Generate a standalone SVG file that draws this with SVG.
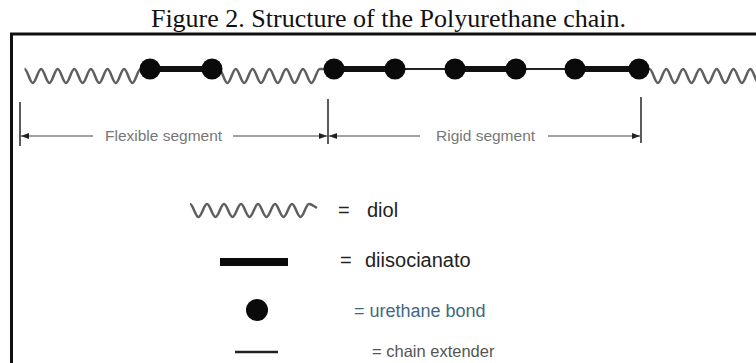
<svg xmlns="http://www.w3.org/2000/svg" width="756" height="363" viewBox="0 0 756 363">
<defs>
<style>
.wave{fill:none;stroke:#5f5f5f;stroke-width:2.5;stroke-linejoin:round}
.thick{stroke:#111;stroke-width:6}
.thin{stroke:#222;stroke-width:2}
.dot{fill:#0a0a0a}
.tick{stroke:#333;stroke-width:1.6}
.dim{stroke:#444;stroke-width:1.2;fill:none}
.dimtxt{font-family:"Liberation Sans",Arial,sans-serif;font-size:15.5px;fill:#777}
.leg{font-family:"Liberation Sans",Arial,sans-serif;font-size:20px;fill:#222}
</style>
<marker id="ah" viewBox="0 0 8 6" refX="8" refY="3" markerWidth="8" markerHeight="6" markerUnits="userSpaceOnUse" orient="auto-start-reverse">
<path d="M0 0L8 3L0 6Z" fill="#222"/>
</marker>
</defs>
<rect width="756" height="363" fill="#fff"/>
<g id="title">
<text x="388.5" y="27" text-anchor="middle" font-family="'Liberation Serif','Times New Roman',serif" font-size="26" fill="#111">Figure 2. Structure of the Polyurethane chain.</text>
</g>
<g id="frame">
<path d="M11.5 363V34H756" fill="none" stroke="#111" stroke-width="3"/>
</g>
<g id="connectors">
<line class="thick" x1="150" y1="69" x2="212" y2="69"/>
<line class="thick" x1="334" y1="69" x2="395" y2="69"/>
<line class="thin" x1="395" y1="69" x2="455" y2="69"/>
<line class="thick" x1="455" y1="69" x2="516" y2="69"/>
<line class="thin" x1="516" y1="69" x2="575" y2="69"/>
<line class="thick" x1="575" y1="69" x2="639" y2="69"/>
</g>
<g id="chain-waves">
<path class="wave" d="M24.5 69c3 0 5.3 14 8.3 14s5.3-14 8.3-14s5.3 14 8.3 14s5.3-14 8.3-14s5.3 14 8.3 14s5.3-14 8.3-14s5.3 14 8.3 14s5.3-14 8.3-14s5.3 14 8.3 14s5.3-14 8.3-14s5.3 14 8.3 14s5.3-14 8.3-14s5.3 14 8.3 14s5.3-14 8.3-14"/>
<path class="wave" d="M219 69c3 0 5.4 14 8.4 14s5.4-14 8.4-14s5.4 14 8.4 14s5.4-14 8.4-14s5.4 14 8.4 14s5.4-14 8.4-14s5.4 14 8.4 14s5.4-14 8.4-14s5.4 14 8.4 14s5.4-14 8.4-14s5.4 14 8.4 14s5.4-14 8.4-14l5 0"/>
<path class="wave" d="M641 69c3 0 5.4 0 8.5 0c3 0 5.4 14 8.4 14s5.4-14 8.4-14s5.4 14 8.4 14s5.4-14 8.4-14s5.4 14 8.4 14s5.4-14 8.4-14s5.4 14 8.4 14s5.4-14 8.4-14s5.4 14 8.4 14s5.4-14 8.4-14s5.4 14 8.4 14s5.4-14 8.4-14s5.4 14 8.4 14"/>
</g>
<g id="urethane-bonds">
<circle class="dot" cx="150" cy="69" r="10.5"/>
<circle class="dot" cx="212" cy="69" r="10.5"/>
<circle class="dot" cx="334" cy="69" r="10.5"/>
<circle class="dot" cx="395" cy="69" r="10.5"/>
<circle class="dot" cx="455" cy="69" r="10.5"/>
<circle class="dot" cx="516" cy="69" r="10.5"/>
<circle class="dot" cx="575" cy="69" r="10.5"/>
<circle class="dot" cx="639" cy="69" r="10.5"/>
</g>
<g id="dimensions">
<line class="tick" x1="20" y1="102" x2="20" y2="146"/>
<line class="tick" x1="328" y1="99" x2="328" y2="144"/>
<line class="tick" x1="641" y1="97" x2="641" y2="143"/>
<line class="dim" x1="93" y1="136" x2="21" y2="136" marker-end="url(#ah)"/>
<line class="dim" x1="233" y1="136" x2="327" y2="136" marker-end="url(#ah)"/>
<line class="dim" x1="420" y1="136" x2="329" y2="136" marker-end="url(#ah)"/>
<line class="dim" x1="548" y1="136" x2="640" y2="136" marker-end="url(#ah)"/>
<text class="dimtxt" x="105" y="141">Flexible segment</text>
<text class="dimtxt" x="436" y="141">Rigid segment</text>
</g>
<g id="legend-diol">
<path class="wave" d="M190 204c3 0 5.4 13 8.5 13s5.4-13 8.5-13s5.4 13 8.5 13s5.4-13 8.5-13s5.4 13 8.5 13s5.4-13 8.5-13s5.4 13 8.5 13s5.4-13 8.5-13s5.4 13 8.5 13s5.4-13 8.5-13s5.4 13 8.5 13s5.4-13 8.5-13s5.4 13 8.5 13s5.4-13 8.5-13c2.5 0 4.5 2 8 4"/>
<text class="leg" x="338" y="217">=</text>
<text class="leg" x="367" y="217">diol</text>
</g>
<g id="legend-diisocianato">
<rect x="220" y="258" width="68" height="8" fill="#0a0a0a"/>
<text class="leg" x="340" y="267">=</text>
<text class="leg" x="365" y="267">diisocianato</text>
</g>
<g id="legend-urethane">
<circle class="dot" cx="257" cy="310" r="11"/>
<text x="354" y="317" font-family="'Liberation Sans',Arial,sans-serif" font-size="18" fill="#3f6885">= urethane bond</text>
</g>
<g id="legend-extender">
<line x1="235" y1="352" x2="278" y2="352" stroke="#222" stroke-width="2.5"/>
<text x="372" y="357" font-family="'Liberation Sans',Arial,sans-serif" font-size="16.5" fill="#555">= chain extender</text>
</g>
</svg>
